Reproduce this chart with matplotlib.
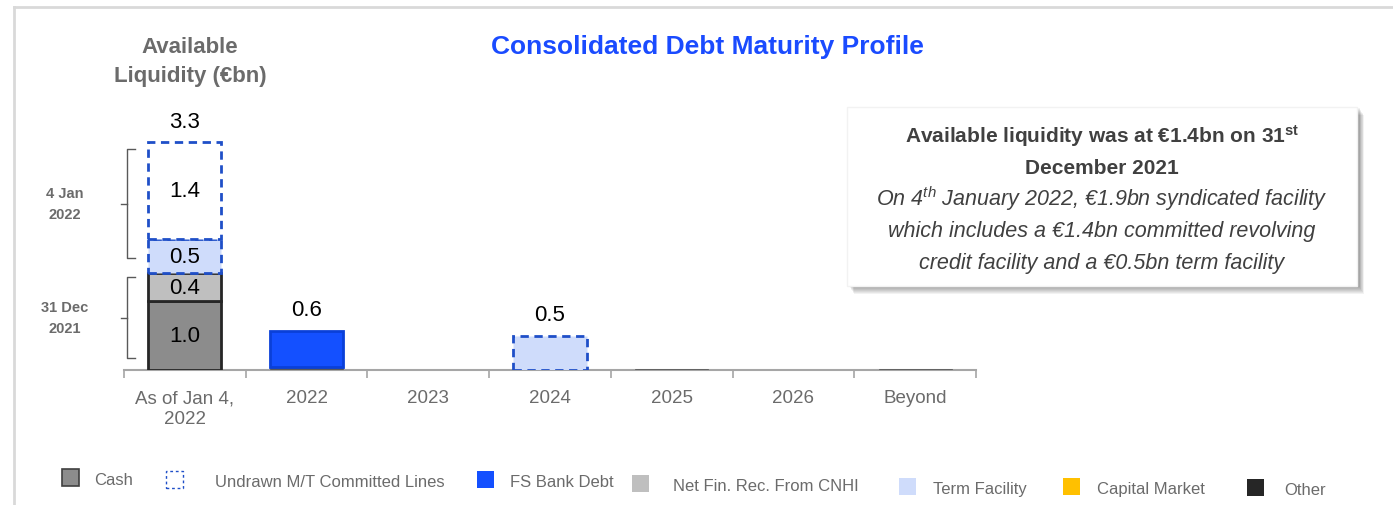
import matplotlib
matplotlib.use("Agg")
import matplotlib.pyplot as plt
from matplotlib import font_manager
from matplotlib.patches import Rectangle
import numpy as np

names = {f.name for f in font_manager.fontManager.ttflist}
NARROW = "Liberation Sans Narrow" if "Liberation Sans Narrow" in names else "Liberation Sans"
plt.rcParams["font.family"] = ["Liberation Sans", "DejaVu Sans"]
plt.rcParams["mathtext.fontset"] = "custom"
plt.rcParams["mathtext.rm"] = "Liberation Sans"
plt.rcParams["mathtext.it"] = "Liberation Sans:italic"
plt.rcParams["mathtext.bf"] = "Liberation Sans:bold"

# data (EUR bn)
categories = ["As of Jan 4,\n2022", "2022", "2023", "2024", "2025", "2026", "Beyond"]
cash = [1.0, 0.0, 0, 0, 0, 0, 0]
net_fin_rec = [0.4, 0.0, 0, 0, 0, 0, 0]
term_facility = [0.5, 0.0, 0, 0.5, 0, 0, 0]
undrawn_lines = [1.4, 0.0, 0, 0, 0, 0, 0]
fs_bank_debt = [0.0, 0.53, 0, 0, 0, 0, 0]
other = [0.0, 0.04, 0, 0, 0.02, 0, 0.02]
totals = ["3.3", "0.6", "", "0.5", "", "", ""]

GREY_DARK = "#8c8c8c"
GREY_LIGHT = "#bfbfbf"
BLUE = "#1450ff"
LIGHT_BLUE = "#cfdcfb"
DASH_BLUE = "#1f4fc8"
BLACK = "#262626"
ORANGE = "#ffc000"
TXT = "#6b6b6b"

fig = plt.figure(figsize=(13.93, 5.06), dpi=100)
ax = fig.add_axes([124 / 1393, 135 / 506, 852 / 1393, 271 / 506])

x = np.arange(len(categories))
w = 0.6
bottom = np.zeros(len(x))


def stack(vals, **kw):
    global bottom
    vals = np.array(vals, dtype=float)
    m = vals > 0
    ax.bar(x[m], vals[m], w, bottom=bottom[m], zorder=3, **kw)
    bottom = bottom + vals


# "other" sits at the very bottom (small slivers)
stack(other, color="#595959", edgecolor="#595959", lw=0.5)
stack(cash, color=GREY_DARK, edgecolor=BLACK, lw=2)
stack(net_fin_rec, color=GREY_LIGHT, edgecolor=BLACK, lw=2)
stack(fs_bank_debt, color=BLUE, edgecolor="#0a40d8", lw=2)
stack(term_facility, color=LIGHT_BLUE, edgecolor=DASH_BLUE, lw=2, linestyle=(0, (3, 2)))
stack(undrawn_lines, color="white", edgecolor=DASH_BLUE, lw=2, linestyle=(0, (3, 2)))

# segment labels on first bar
seg_base = other[0]
for vals in [cash, net_fin_rec, term_facility, undrawn_lines]:
    v = vals[0]
    ax.text(0, seg_base + v / 2, f"{v:.1f}", ha="center", va="center", fontsize=16,
            fontfamily=NARROW, color="black", zorder=4)
    seg_base += v
for i, t in enumerate(totals):
    if t:
        ax.text(i, bottom[i] + 0.15, t, ha="center", va="bottom", fontsize=16,
                fontfamily=NARROW, color="black")

ax.set_xlim(-0.5, 6.5)
ax.set_ylim(0, 271 / 69)
for s in ["top", "right", "left"]:
    ax.spines[s].set_visible(False)
ax.spines["bottom"].set_color("#a6a6a6")
ax.spines["bottom"].set_linewidth(1.5)
ax.spines["bottom"].set_zorder(2)
ax.set_yticks([])
ax.set_xticks(np.arange(-0.5, 7, 1))
ax.set_xticklabels([])
ax.tick_params(axis="x", length=6, width=1.2, color="#a6a6a6")
ax.set_xticks(x, minor=True)
ax.set_xticklabels(categories, minor=True, fontsize=13.5, color=TXT, linespacing=1.3)
ax.tick_params(axis="x", which="minor", length=0, pad=14)


# brackets on left of first bar
def fline(xs, ys):
    fig.add_artist(plt.Line2D([v / 1393 for v in xs], [1 - v / 506 for v in ys],
                              color="#595959", lw=1))


def bracket(y0, y1, label):
    xb, xr = 127, 135
    fline([xr, xb, xb, xr], [y0, y0, y1, y1])
    ym = (y0 + y1) / 2
    fline([121, xb], [ym, ym])
    fig.text(65 / 1393, 1 - ym / 506, label, ha="center", va="center", fontsize=10.5,
             fontweight="bold", color=TXT, fontfamily=NARROW, linespacing=1.6)


bracket(150, 259, "4 Jan\n2022")
bracket(278, 359, "31 Dec\n2021")

# titles
fig.text(707 / 1393, 1 - 47 / 506, "Consolidated Debt Maturity Profile", ha="center",
         va="center", fontsize=19, fontweight="bold", color="#1a4bff", fontfamily=NARROW)
fig.text(190 / 1393, 1 - 62 / 506, "Available\nLiquidity (€bn)", ha="center", va="center",
         fontsize=16, fontweight="bold", color=TXT, fontfamily=NARROW, linespacing=1.45)

# note box with soft shadow
bx0, by0, bx1, by1 = 847, 108, 1357, 287
for k in range(8, 0, -1):
    fig.patches.append(Rectangle(((bx0 + 2 + k * 0.6) / 1393, 1 - (by1 + k) / 506),
                                 (bx1 - bx0) / 1393, (by1 - by0) / 506,
                                 transform=fig.transFigure, color="black",
                                 alpha=0.05, lw=0, zorder=1))
fig.patches.append(Rectangle((bx0 / 1393, 1 - by1 / 506), (bx1 - bx0) / 1393,
                             (by1 - by0) / 506, transform=fig.transFigure,
                             facecolor="white", edgecolor="#f2f2f2", lw=1, zorder=2))
cx = (bx0 + bx1) / 2 / 1393
fig.text(cx, 1 - 136 / 506, r"Available liquidity was at €1.4bn on 31$^{\mathbf{st}}$",
         ha="center", va="center", fontsize=15, fontweight="bold", color="#404040",
         fontfamily=NARROW, zorder=3)
fig.text(cx, 1 - 168 / 506, "December 2021", ha="center", va="center", fontsize=15,
         fontweight="bold", color="#404040", fontfamily=NARROW, zorder=3)
note = [r"On 4$^{th}$ January 2022, €1.9bn syndicated facility",
        "which includes a €1.4bn committed revolving",
        "credit facility and a €0.5bn term facility"]
for i, line in enumerate(note):
    fig.text(cx, 1 - (199 + i * 32) / 506, line, ha="center", va="center", fontsize=15.5,
             style="italic", color="#404040", fontfamily=NARROW, zorder=3)

# slide frame lines
fig.add_artist(plt.Line2D([14 / 1393, 1], [1 - 8 / 506, 1 - 8 / 506], color="#d9d9d9", lw=2))
fig.add_artist(plt.Line2D([14 / 1393, 14 / 1393], [0, 1 - 8 / 506], color="#d9d9d9", lw=2))

# legend
legend_items = [
    ("Cash", 62, 94, 481, dict(facecolor=GREY_DARK, edgecolor="#404040", lw=1.2)),
    ("Undrawn M/T Committed Lines", 166, 215, 483,
     dict(facecolor="white", edgecolor=DASH_BLUE, lw=1, linestyle=(0, (2, 2)))),
    ("FS Bank Debt", 477, 510, 483, dict(facecolor=BLUE, edgecolor=BLUE, lw=0)),
    ("Net Fin. Rec. From CNHI", 632, 673, 487, dict(facecolor=GREY_LIGHT, edgecolor=GREY_LIGHT, lw=0)),
    ("Term Facility", 899, 933, 490, dict(facecolor=LIGHT_BLUE, edgecolor=LIGHT_BLUE, lw=0)),
    ("Capital Market", 1063, 1097, 490, dict(facecolor=ORANGE, edgecolor=ORANGE, lw=0)),
    ("Other", 1247, 1284, 491, dict(facecolor=BLACK, edgecolor=BLACK, lw=0)),
]
for label, sx, tx, ty, style in legend_items:
    sq = 17
    sy = ty - 3
    fig.patches.append(Rectangle((sx / 1393, 1 - (sy + sq / 2) / 506), sq / 1393, sq / 506,
                                 transform=fig.transFigure, **style))
    fig.text(tx / 1393, 1 - ty / 506, label, ha="left", va="center", fontsize=12,
             color=TXT, fontfamily=NARROW)

fig.savefig("out.png", dpi=100)
